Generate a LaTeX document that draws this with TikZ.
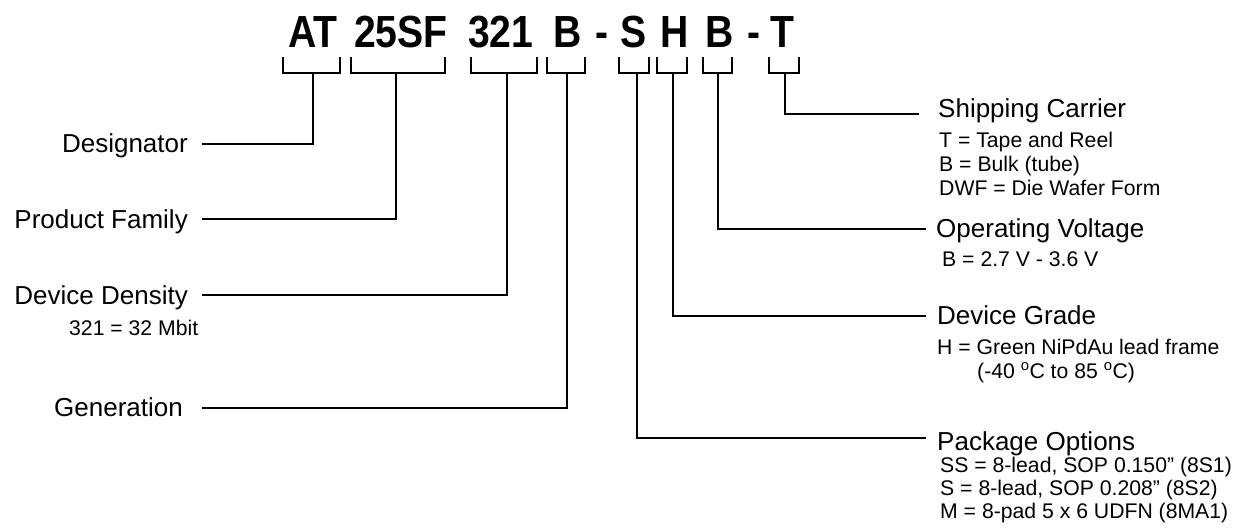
\documentclass[tikz,border=0pt]{standalone}
\usepackage{fontspec}
\setmainfont{Liberation Sans}
\newfontfamily\titlefont[FakeStretch=0.87]{Liberation Sans}
\begin{document}
\begin{tikzpicture}[x=1pt,y=-1pt,
  lw/.style={line width=2.7pt, line join=miter},
  ttl/.style={inner sep=0pt, anchor=base west, font=\titlefont\bfseries\fontsize{45}{50}\selectfont},
  lbl/.style={inner sep=0pt, font=\fontsize{26}{30}\selectfont},
  sub/.style={inner sep=0pt, anchor=base west, font=\fontsize{21.2}{24}\selectfont}]
\useasboundingbox (0,0) rectangle (1238,527);

% title pieces
\node[ttl] (tAT) at (288,48) {AT};
\node[ttl] (t25) at (354,48) {25SF};
\node[ttl] (t321) at (468,48) {321};
\node[ttl] (tB1) at (553,48) {B};
\node[ttl] (td1) at (595,48) {-};
\node[ttl] (tS) at (620,48) {S};
\node[ttl] (tH) at (660,48) {H};
\node[ttl] (tB2) at (705,48) {B};
\node[ttl] (td2) at (747,48) {-};
\node[ttl] (tT) at (770,48) {T};

% brackets
\draw[lw] (283,57) -- (283,73) -- (340,73) -- (340,57);
\draw[lw] (351,57) -- (351,73) -- (445,73) -- (445,57);
\draw[lw] (471,57) -- (471,73) -- (537,73) -- (537,57);
\draw[lw] (547,57) -- (547,73) -- (585,73) -- (585,57);
\draw[lw] (619,57) -- (619,73) -- (649,73) -- (649,57);
\draw[lw] (657,57) -- (657,73) -- (687,73) -- (687,57);
\draw[lw] (703,57) -- (703,73) -- (732,73) -- (732,57);
\draw[lw] (769,57) -- (769,73) -- (799,73) -- (799,57);

\coordinate (s1) at (313,72);
\coordinate (s2) at (396,72);
\coordinate (s3) at (507,72);
\coordinate (s4) at (567,72);
\coordinate (s5) at (637,72);
\coordinate (s6) at (673,72);
\coordinate (s7) at (718,72);
\coordinate (s8) at (785,72);

% left labels
\coordinate (e1) at (202,144);
\coordinate (e2) at (202,219);
\coordinate (e3) at (202,295);
\coordinate (e4) at (202,408);
\node[lbl, anchor=base east] (desig) at (188,152) {Designator};
\node[lbl, anchor=base east] (pfam) at (188,228) {Product Family};
\node[lbl, anchor=base east] (dden) at (188,304) {Device Density};
\node[sub] (ddsub) at (69,335) {321 = 32 Mbit};
\node[lbl, anchor=base east] (gen) at (183,416) {Generation};

\draw[lw] (s1) |- (e1);
\draw[lw] (s2) |- (e2);
\draw[lw] (s3) |- (e3);
\draw[lw] (s4) |- (e4);

% right labels
\coordinate (e8) at (919,114);
\coordinate (e7) at (926,229);
\coordinate (e6) at (926,316);
\coordinate (e5) at (926,438);

\draw[lw] (s8) |- (e8);
\draw[lw] (s7) |- (e7);
\draw[lw] (s6) |- (e6);
\draw[lw] (s5) |- (e5);

\node[lbl, anchor=base west] (ship) at (938,117) {Shipping Carrier};
\node[sub] (ship1) at (939,147) {T = Tape and Reel};
\node[sub] (ship2) at (939,171) {B = Bulk (tube)};
\node[sub] (ship3) at (939,195) {DWF = Die Wafer Form};

\node[lbl, anchor=base west] (volt) at (936,237) {Operating Voltage};
\node[sub] (volt1) at (942,266) {B = 2.7 V - 3.6 V};

\node[lbl, anchor=base west] (grade) at (937,324) {Device Grade};
\node[sub] (grade1) at (937,354) {H = Green NiPdAu lead frame};
\node[sub] (grade2) at (977,378) {(-40 \textsuperscript{o}C to 85 \textsuperscript{o}C)};

\node[lbl, anchor=base west] (pkg) at (937,450) {Package Options};
\node[sub] (pkg1) at (940,472) {SS = 8-lead, SOP 0.150” (8S1)};
\node[sub] (pkg2) at (940,495) {S = 8-lead, SOP 0.208” (8S2)};
\node[sub] (pkg3) at (940,518) {M = 8-pad 5 x 6 UDFN (8MA1)};
\end{tikzpicture}
\end{document}
